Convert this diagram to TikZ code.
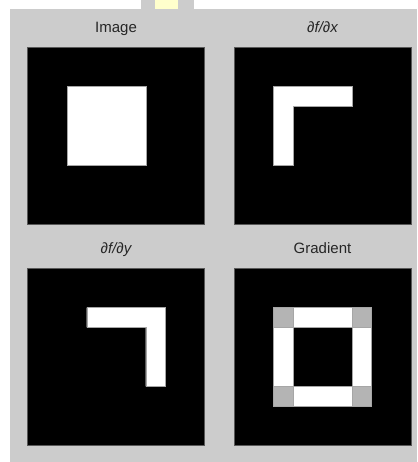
\documentclass[tikz,border=0pt]{standalone}
\usepackage{fontspec}
\setmainfont{Liberation Sans}
\usetikzlibrary{calc}
\definecolor{bgray}{HTML}{CCCCCC}
\definecolor{tabyellow}{HTML}{FFFFCC}
\definecolor{cornergray}{HTML}{B4B4B4}
\begin{document}
\begin{tikzpicture}[x=1pt,y=-1pt,
  panel/.style={draw=black!65, line width=0.6pt, fill=black, minimum size=177pt,
    inner sep=0pt, outer sep=0pt, anchor=north west},
  title/.style={font=\fontsize{15}{18}\selectfont, anchor=base, inner sep=0pt, text=black!85},
  onpix/.style={fill=white, draw=black!35, line width=0.4pt},
  midpix/.style={fill=cornergray, draw=black!35, line width=0.4pt},
  offpix/.style={fill=black, draw=black!35, line width=0.4pt}]
\def\c{19.667}
% canvas
\fill[white] (0,0) rectangle (417,462);
\useasboundingbox (0,0) rectangle (417,462);
\fill[bgray] (10,9) rectangle (417,462);
\fill[bgray] (141,0) rectangle (194,9);
\fill[tabyellow] (155,0) rectangle (178,9);
% panels
\node[panel] (p1) at (27.7,47) {};
\node[panel] (p2) at (234,47) {};
\node[panel] (p3) at (27.7,268.3) {};
\node[panel] (p4) at (234,268.3) {};
% titles
\node[title] (t1) at (116,33) {Image};
\node[title] (t2) at (322.5,33) {\itshape ∂f/∂x};
\node[title] (t3) at (116,253) {\itshape ∂f/∂y};
\node[title] (t4) at (322.5,253) {Gradient};
% Image
\path[onpix] ($(p1.north west)+(2*\c,2*\c)$) rectangle ++(4*\c,4*\c);
% df/dx
\path[onpix] ($(p2.north west)+(2*\c,2*\c)$) -- ++(4*\c,0) -- ++(0,\c) -- ++(-3*\c,0)
  -- ++(0,3*\c) -- ++(-\c,0) -- cycle;
% df/dy
\path[onpix] ($(p3.north west)+(3*\c,2*\c)$) -- ++(4*\c,0) -- ++(0,4*\c) -- ++(-\c,0)
  -- ++(0,-3*\c) -- ++(-3*\c,0) -- cycle;
% Gradient
\path[onpix] ($(p4.north west)+(2*\c,2*\c)$) rectangle ++(5*\c,5*\c);
\path[offpix] ($(p4.north west)+(3*\c,3*\c)$) rectangle ++(3*\c,3*\c);
\path[midpix] ($(p4.north west)+(2*\c,2*\c)$) rectangle ++(\c,\c);
\path[midpix] ($(p4.north west)+(6*\c,2*\c)$) rectangle ++(\c,\c);
\path[midpix] ($(p4.north west)+(2*\c,6*\c)$) rectangle ++(\c,\c);
\path[midpix] ($(p4.north west)+(6*\c,6*\c)$) rectangle ++(\c,\c);
\end{tikzpicture}
\end{document}
